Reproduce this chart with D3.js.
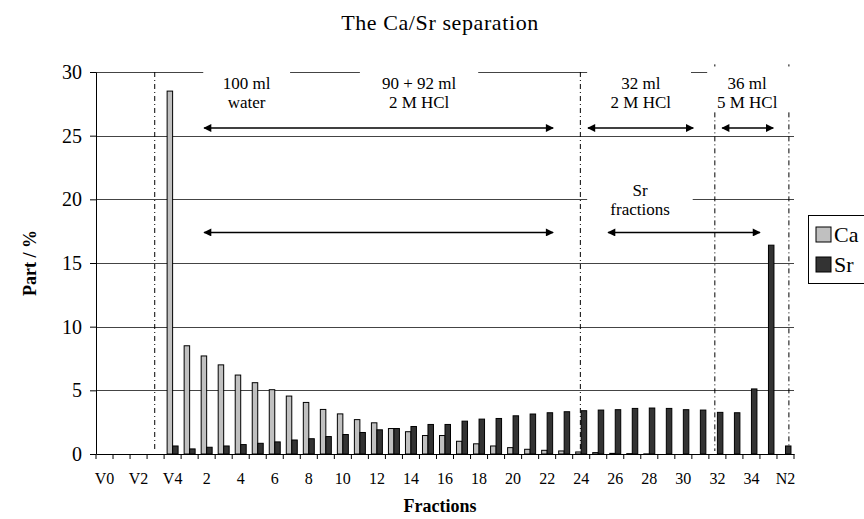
<!DOCTYPE html>
<html>
<head>
<meta charset="utf-8">
<script src="https://cdn.jsdelivr.net/npm/d3@7"></script>
<style>
  body { margin: 0; background: #fff; }
  text { font-family: "Liberation Serif", "Times New Roman", serif; fill: #000; }
</style>
</head>
<body>
<div id="chart"></div>
<script>
var categories = ["V0", "V1", "V2", "V3", "V4"];
for (var i = 1; i <= 34; i++) categories.push(String(i));
categories.push("N1", "N2");

var caValues = [0, 0, 0, 0, 28.5, 8.5, 7.7, 7.0, 6.2, 5.6, 5.05, 4.55, 4.05, 3.5, 3.15, 2.7, 2.45, 2.0,
    1.75, 1.45, 1.45, 1.0, 0.8, 0.63, 0.5, 0.37, 0.29, 0.24, 0.16, 0.11, 0.05, 0.03, 0.01,
    0, 0, 0, 0, 0, 0, 0, 0];
var srValues = [0, 0, 0, 0, 0.63, 0.4, 0.53, 0.63, 0.74, 0.84, 0.95, 1.1, 1.2, 1.37, 1.53, 1.69, 1.9, 2.0,
    2.16, 2.32, 2.32, 2.58, 2.74, 2.79, 3.0, 3.14, 3.24, 3.32, 3.4, 3.45, 3.48, 3.58, 3.61,
    3.58, 3.48, 3.45, 3.27, 3.24, 5.11, 16.4, 0.63];

var seriesNames = ["Ca", "Sr"];
var seriesColors = { "Ca": "#c0c0c0", "Sr": "#333333" };
var yTicks = [0, 5, 10, 15, 20, 25, 30];

// annotation positions, in category units along x and % along y
var phaseLines = [{ at: 3.45, top: 30 }, { at: 28.45, top: 30 }, { at: 36.35, top: 30.6 }, { at: 40.7, top: 30.6 }];
var phaseLabels = [
    { lines: ["100 ml", "water"], at: 8.85, y: 29.1, box: [6.3, 11.4] },
    { lines: ["90 + 92 ml", "2 M HCl"], at: 18.98, y: 29.1, box: [15.5, 22.45] },
    { lines: ["32 ml", "2 M HCl"], at: 32.0, y: 29.1, box: [28.85, 34.95] },
    { lines: ["36 ml", "5 M HCl"], at: 38.25, y: 29.1, box: [35.9, 41.2] },
    { lines: ["Sr", "fractions"], at: 31.96, y: 20.75, box: [28.85, 35.05] }
];
var arrows = [
    { from: 6.35, to: 26.85, y: 25.6 },
    { from: 28.9, to: 35.08, y: 25.6 },
    { from: 36.78, to: 39.78, y: 25.6 },
    { from: 6.35, to: 26.85, y: 17.4 },
    { from: 30.08, to: 39.0, y: 17.4 }
];

var width = 864, height = 519;
var plotLeft = 96, plotRight = 794, plotBottom = 454, plotTop = 72;

var svg = d3.select("#chart").append("svg")
    .attr("width", width)
    .attr("height", height);

var x = d3.scaleBand().domain(categories).range([plotLeft, plotRight]).padding(0);
var xu = d3.scaleLinear().domain([0, categories.length]).range([plotLeft, plotRight]);
var xs = d3.scaleBand().domain(seriesNames).range([0, x.bandwidth()]).paddingInner(0).paddingOuter(0.55);
var y = d3.scaleLinear().domain([0, 30]).range([plotBottom, plotTop]);

// title
svg.append("text")
    .attr("x", 440).attr("y", 30)
    .attr("text-anchor", "middle")
    .style("font-size", "22px")
    .style("letter-spacing", "0.6px")
    .text("The Ca/Sr separation");

// gridlines
svg.append("g").selectAll("line")
    .data(yTicks.filter(function(d) { return d > 0; }))
    .enter().append("line")
    .attr("x1", plotLeft).attr("x2", plotRight)
    .attr("y1", function(d) { return Math.round(y(d)) + 0.5; })
    .attr("y2", function(d) { return Math.round(y(d)) + 0.5; })
    .style("stroke", "#444")
    .style("stroke-width", 1);

// phase separators
svg.append("g").selectAll("line")
    .data(phaseLines)
    .enter().append("line")
    .attr("x1", function(d) { return xu(d.at); })
    .attr("x2", function(d) { return xu(d.at); })
    .attr("y1", function(d) { return y(d.top); })
    .attr("y2", y(0) - 3)
    .style("stroke", "#000")
    .style("stroke-width", 1)
    .style("stroke-dasharray", "5,3,1,3");

// label boxes hide the gridlines behind the text
var labels = svg.append("g").selectAll("g")
    .data(phaseLabels)
    .enter().append("g");

labels.append("rect")
    .attr("x", function(d) { return xu(d.box[0]); })
    .attr("width", function(d) { return xu(d.box[1]) - xu(d.box[0]); })
    .attr("y", function(d) { return y(d.y) - 17; })
    .attr("height", 44)
    .style("fill", "#fff");

labels.selectAll("text")
    .data(function(d) { return d.lines.map(function(t, i) { return { t: t, i: i, p: d }; }); })
    .enter().append("text")
    .attr("x", function(d) { return xu(d.p.at); })
    .attr("y", function(d) { return y(d.p.y) + 6 + d.i * 19; })
    .attr("text-anchor", "middle")
    .style("font-size", "17px")
    .text(function(d) { return d.t; });

// bars
var groups = svg.append("g").selectAll("g")
    .data(categories)
    .enter().append("g")
    .attr("transform", function(d) { return "translate(" + x(d) + ",0)"; });

groups.selectAll("rect")
    .data(function(d, i) {
        return [{ s: "Ca", v: caValues[i] }, { s: "Sr", v: srValues[i] }].filter(function(b) { return b.v > 0; });
    })
    .enter().append("rect")
    .attr("x", function(d) { return xs(d.s); })
    .attr("y", function(d) { return y(d.v); })
    .attr("width", xs.bandwidth())
    .attr("height", function(d) { return y(0) - y(d.v); })
    .style("fill", function(d) { return seriesColors[d.s]; })
    .style("stroke", "#000")
    .style("stroke-width", 1);

// arrows
var defs = svg.append("defs");
defs.append("marker")
    .attr("id", "head")
    .attr("viewBox", "0 0 10 10")
    .attr("refX", 9).attr("refY", 5)
    .attr("markerWidth", 10).attr("markerHeight", 8)
    .attr("markerUnits", "userSpaceOnUse")
    .attr("orient", "auto-start-reverse")
    .append("path")
    .attr("d", "M0,0 L10,5 L0,10 Z")
    .style("fill", "#000");

svg.append("g").selectAll("line")
    .data(arrows)
    .enter().append("line")
    .attr("x1", function(d) { return xu(d.from); })
    .attr("x2", function(d) { return xu(d.to); })
    .attr("y1", function(d) { return y(d.y); })
    .attr("y2", function(d) { return y(d.y); })
    .style("stroke", "#000")
    .style("stroke-width", 1.5)
    .attr("marker-start", "url(#head)")
    .attr("marker-end", "url(#head)");

// axes
var xAxis = d3.axisBottom(x)
    .tickSize(0)
    .tickFormat(function(d, i) { return i % 2 === 0 ? d : ""; });

var gx = svg.append("g")
    .attr("transform", "translate(0," + plotBottom + ")")
    .call(xAxis);
gx.select(".domain").style("stroke", "#000");
gx.selectAll("text")
    .attr("dy", null)
    .attr("y", 30)
    .style("font-family", "Liberation Serif")
    .style("font-size", "16px");

svg.append("g").selectAll("line")
    .data(d3.range(categories.length + 1))
    .enter().append("line")
    .attr("x1", function(d) { return xu(d); })
    .attr("x2", function(d) { return xu(d); })
    .attr("y1", plotBottom).attr("y2", plotBottom + 5)
    .style("stroke", "#000");

var gy = svg.append("g")
    .attr("transform", "translate(" + plotLeft + ",0)")
    .call(d3.axisLeft(y).tickValues(yTicks).tickSize(6).tickPadding(8).tickSizeOuter(0));
gy.select(".domain").style("stroke", "#000");
gy.selectAll("line").style("stroke", "#000");
gy.selectAll("text")
    .style("font-family", "Liberation Serif")
    .style("font-size", "20px");

// axis titles
svg.append("text")
    .attr("x", 440).attr("y", 512)
    .attr("text-anchor", "middle")
    .style("font-size", "18px")
    .style("font-weight", "bold")
    .text("Fractions");

svg.append("text")
    .attr("transform", "translate(36,263) rotate(-90)")
    .attr("text-anchor", "middle")
    .style("font-size", "18px")
    .style("font-weight", "bold")
    .text("Part / %");

// legend
var legend = svg.append("g").attr("transform", "translate(808,215)");
legend.append("rect")
    .attr("x", 0.5).attr("y", 0.5)
    .attr("width", 62).attr("height", 68)
    .style("fill", "#fff")
    .style("stroke", "#000");

var items = legend.selectAll("g.item")
    .data(seriesNames)
    .enter().append("g")
    .attr("class", "item")
    .attr("transform", function(d, i) { return "translate(8," + (12 + i * 30) + ")"; });

items.append("rect")
    .attr("width", 15).attr("height", 15)
    .style("fill", function(d) { return seriesColors[d]; })
    .style("stroke", "#000");

items.append("text")
    .attr("x", 18).attr("y", 15)
    .style("font-size", "22px")
    .text(function(d) { return d; });
</script>
</body>
</html>
